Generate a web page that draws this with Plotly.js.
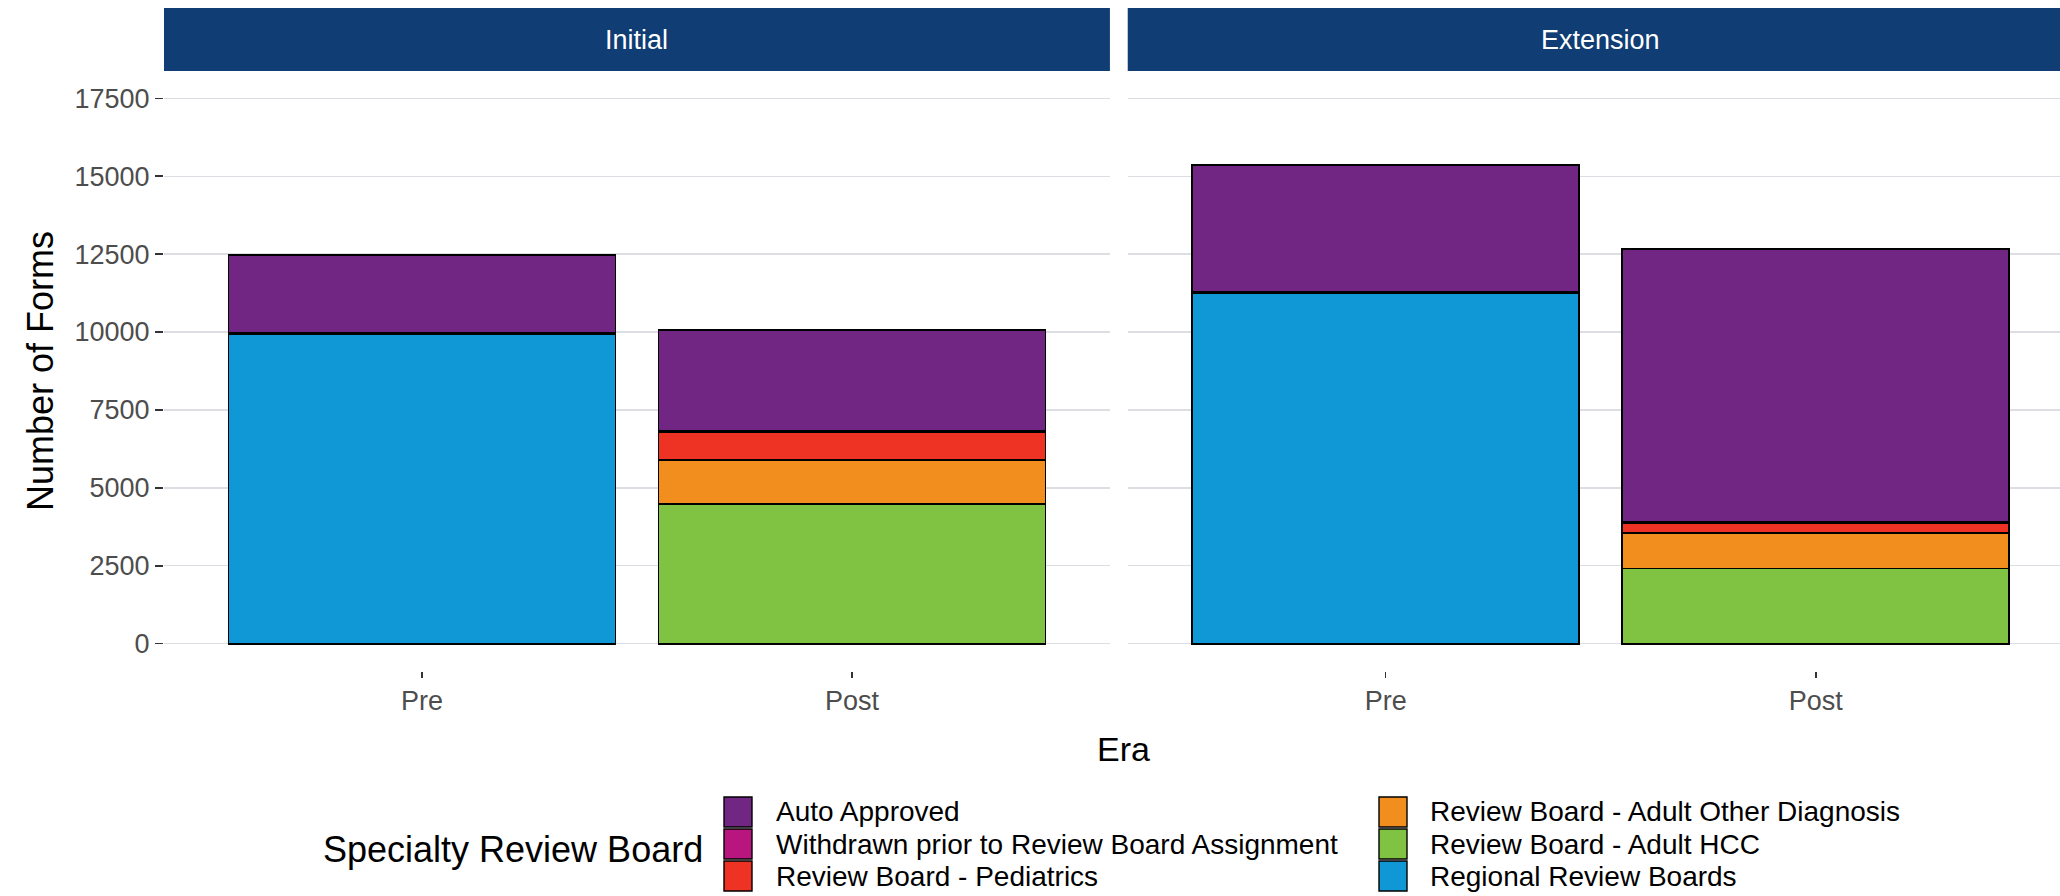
<!DOCTYPE html>
<html>
<head>
<meta charset="utf-8">
<script src="https://cdn.plot.ly/plotly-3.0.1.min.js"></script>
<style>html,body{margin:0;padding:0;background:#fff;}#chart{width:2060px;height:896px;}</style>
</head>
<body>
<div id="chart"></div>
<script>
// ---- data ----
var facets = ['Initial', 'Extension'];
var eras = ['Pre', 'Post'];
var seriesNames = ['Regional Review Boards', 'Review Board - Adult HCC', 'Review Board - Adult Other Diagnosis',
                   'Review Board - Pediatrics', 'Withdrawn prior to Review Board Assignment', 'Auto Approved'];
var regionalInitial   = [9920, null];
var regionalExtension = [11260, null];
var hccInitial        = [null, 4480];
var hccExtension      = [null, 2410];
var otherInitial      = [null, 1420];
var otherExtension    = [null, 1135];
var pedInitial        = [null, 890];
var pedExtension      = [null, 335];
var withdrawnInitial  = [40, 50];
var withdrawnExtension= [40, 20];
var autoInitial       = [2520, 3230];
var autoExtension     = [4070, 8770];
var yTicks = [0, 2500, 5000, 7500, 10000, 12500, 15000, 17500];
var yTickLabels = ['0', '2500', '5000', '7500', '10000', '12500', '15000', '17500'];
var legendTitle = 'Specialty Review Board';

// ---- styling ----
var colors = ['#0F98D5', '#80C342', '#F28E1E', '#EE3224', '#B8167E', '#712684'];
var initialSets = [regionalInitial, hccInitial, otherInitial, pedInitial, withdrawnInitial, autoInitial];
var extensionSets = [regionalExtension, hccExtension, otherExtension, pedExtension, withdrawnExtension, autoExtension];
var FONT = 'Liberation Sans, Arial, sans-serif';

var W = 2060, H = 896, ML = 164, MR = 0, MT = 71, MB = 225;
var PW = W - ML - MR, PH = H - MT - MB;
function px2x(px) { return (px - ML) / PW; }
function px2y(py) { return (H - MB - py) / PH; }

var traces = [];
for (var i = 0; i < seriesNames.length; i++) {
  traces.push({
    type: 'bar', x: eras, y: initialSets[i], name: seriesNames[i],
    xaxis: 'x', yaxis: 'y', width: 0.9, showlegend: false,
    marker: {color: colors[i], line: {color: '#000', width: 1.7}},
    hoverinfo: 'name+y'
  });
  traces.push({
    type: 'bar', x: eras, y: extensionSets[i], name: seriesNames[i],
    xaxis: 'x2', yaxis: 'y2', width: 0.9, showlegend: false,
    marker: {color: colors[i], line: {color: '#000', width: 1.7}},
    hoverinfo: 'name+y'
  });
}

var gridColor = '#DCDEE4';
var yCommon = {
  range: [-875, 18375], tickvals: yTicks, ticktext: yTickLabels, gridcolor: gridColor, gridwidth: 1.3,
  zeroline: false, showline: false, fixedrange: true
};
var y1 = Object.assign({}, yCommon, {
  ticks: 'outside', ticklen: 8, tickwidth: 1.5, tickcolor: '#333333',
  tickfont: {family: FONT, size: 27, color: '#4D4D4D'},
  title: {text: 'Number of Forms', font: {family: FONT, size: 36, color: '#000'}, standoff: 9}
});
var y2 = Object.assign({}, yCommon, {anchor: 'x2', matches: 'y', showticklabels: false, ticks: ''});

var xCommon = {
  type: 'category', categoryorder: 'array', categoryarray: eras,
  showgrid: false, zeroline: false, showline: false,
  ticks: 'outside', ticklen: 6, tickwidth: 1.5, tickcolor: '#333333',
  tickfont: {family: FONT, size: 27, color: '#4D4D4D'}, fixedrange: true
};
var x1 = Object.assign({}, xCommon, {domain: [0, 0.4989], range: [-0.6, 1.6], anchor: 'y'});
var x2 = Object.assign({}, xCommon, {domain: [0.5083, 1], range: [-0.6, 1.568], anchor: 'y2'});

var stripColor = '#0F3D74';
var shapes = [
  {type: 'rect', xref: 'x domain', yref: 'paper', x0: 0, x1: 1, y0: 1.0, y1: 1.105,
   fillcolor: stripColor, line: {width: 0}, layer: 'above'},
  {type: 'rect', xref: 'x2 domain', yref: 'paper', x0: 0, x1: 1, y0: 1.0, y1: 1.105,
   fillcolor: stripColor, line: {width: 0}, layer: 'above'}
];
var annotations = [
  {text: facets[0], xref: 'x', yref: 'paper', x: 0.5, y: 1.0525, showarrow: false,
   xanchor: 'center', yanchor: 'middle', font: {family: FONT, size: 27, color: '#FFFFFF'}},
  {text: facets[1], xref: 'x2', yref: 'paper', x: 0.5, y: 1.0525, showarrow: false,
   xanchor: 'center', yanchor: 'middle', font: {family: FONT, size: 27, color: '#FFFFFF'}},
  {text: 'Era', xref: 'paper', yref: 'paper', x: px2x(1123), y: px2y(749), showarrow: false,
   xanchor: 'center', yanchor: 'middle', font: {family: FONT, size: 34, color: '#000'}},
  {text: legendTitle, xref: 'paper', yref: 'paper', x: px2x(513), y: px2y(849), showarrow: false,
   xanchor: 'center', yanchor: 'middle', font: {family: FONT, size: 36, color: '#000'}}
];

// ---- legend (two columns of three keys, ggplot style) ----
var legendColumns = [[5, 4, 3], [2, 1, 0]];
var colKeyLeft = [724, 1379], colTextLeft = [775, 1429];
var keyW = 28, keyH = 30, rowTop0 = 797, rowPitch = 32;
legendColumns.forEach(function (col, c) {
  col.forEach(function (si, r) {
    var top = rowTop0 + r * rowPitch;
    shapes.push({type: 'rect', xref: 'paper', yref: 'paper',
      x0: px2x(colKeyLeft[c]), x1: px2x(colKeyLeft[c] + keyW),
      y0: px2y(top + keyH), y1: px2y(top),
      fillcolor: colors[si], line: {color: '#000', width: 1.4}});
    annotations.push({text: seriesNames[si], xref: 'paper', yref: 'paper',
      x: px2x(colTextLeft[c]), y: px2y(top + keyH / 2), showarrow: false, borderpad: 0,
      xanchor: 'left', yanchor: 'middle', font: {family: FONT, size: 28, color: '#000'}});
  });
});

var layout = {
  width: W, height: H,
  margin: {l: ML, r: MR, t: MT, b: MB, pad: 0, autoexpand: false},
  paper_bgcolor: '#FFFFFF', plot_bgcolor: '#FFFFFF',
  barmode: 'stack', bargap: 0.1,
  font: {family: FONT},
  xaxis: x1, xaxis2: x2, yaxis: y1, yaxis2: y2,
  showlegend: false,
  shapes: shapes, annotations: annotations
};

Plotly.newPlot('chart', traces, layout, {displayModeBar: false, staticPlot: true});
</script>
</body>
</html>
